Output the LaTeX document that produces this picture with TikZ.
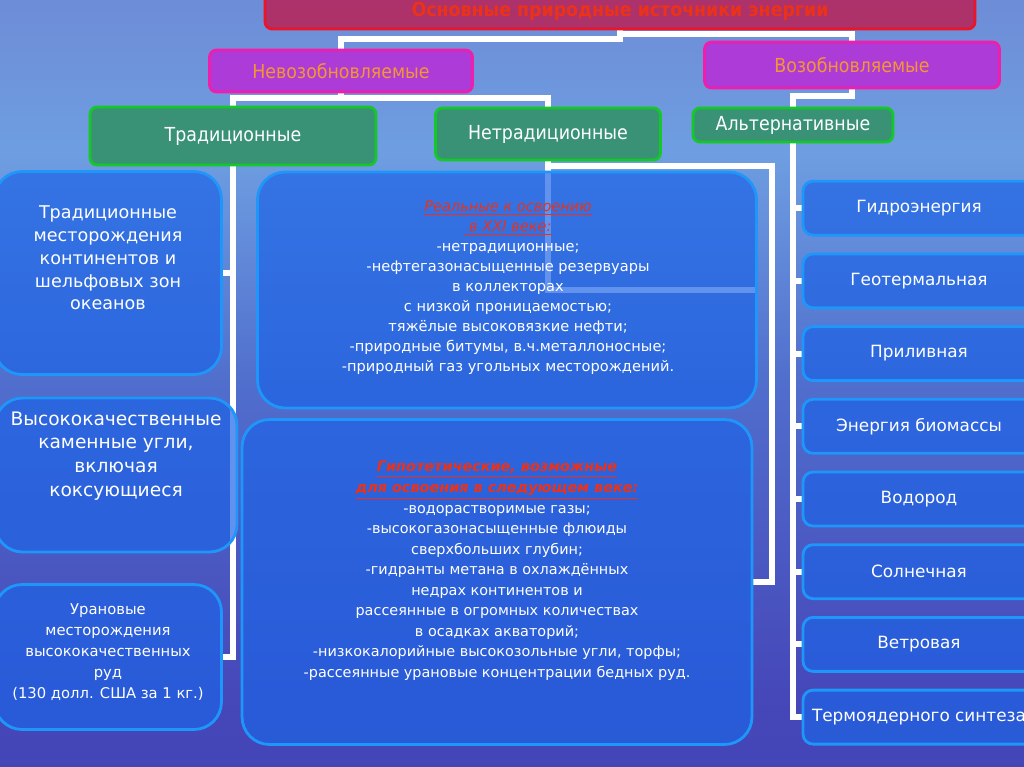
\documentclass[tikz,border=0pt]{standalone}
\usepackage{fontspec}
\setmainfont{DejaVu Sans}
\newfontfamily\condfont{DejaVu Sans Condensed}
\usetikzlibrary{positioning}

\definecolor{seatop}{RGB}{110,110,195}
\definecolor{boxblue}{RGB}{30,100,230}
\definecolor{boxedge}{RGB}{30,150,250}
\definecolor{headred}{RGB}{235,50,25}
\definecolor{titlefill}{RGB}{180,40,95}
\definecolor{titleedge}{RGB}{235,20,40}
\definecolor{pinkfill}{RGB}{180,50,215}
\definecolor{pinkedge}{RGB}{240,30,170}
\definecolor{orangetxt}{RGB}{245,150,50}
\definecolor{greenfill}{RGB}{50,145,100}
\definecolor{greenedge}{RGB}{20,200,40}

\pgfdeclareverticalshading{sea}{100bp}{
  color(0bp)=({rgb,255:red,55;green,50;blue,165});
  color(30bp)=({rgb,255:red,70;green,72;blue,185});
  color(50bp)=({rgb,255:red,80;green,110;blue,205});
  color(65bp)=({rgb,255:red,110;green,158;blue,225});
  color(78bp)=({rgb,255:red,110;green,135;blue,212});
  color(88bp)=({rgb,255:red,95;green,105;blue,195});
  color(100bp)=(seatop)}

\pgfdeclarelayer{bg}
\pgfdeclarelayer{links}
\pgfsetlayers{bg,links,main}

\tikzset{
  link/.style={draw=white, line width=3.4pt},
  titlebox/.style={draw=titleedge, line width=1.6pt, fill=titlefill, fill opacity=0.9, text opacity=1,
    rounded corners=4pt, text=headred, font=\condfont\bfseries\fontsize{11}{13}\selectfont},
  pinkbox/.style={draw=pinkedge, line width=1.6pt, fill=pinkfill, fill opacity=0.9, text opacity=1,
    rounded corners=4pt, text=orangetxt, font=\condfont\fontsize{11}{13}\selectfont},
  greenbox/.style={draw=greenedge, line width=1.6pt, fill=greenfill, fill opacity=0.85, text opacity=1,
    rounded corners=4pt, text=white, font=\condfont\fontsize{11}{13}\selectfont},
  bluebox/.style={draw=boxedge, line width=1.6pt, fill=boxblue, fill opacity=0.7,
    rounded corners=0.55cm},
  altbox/.style={draw=boxedge, line width=1.6pt, fill=boxblue, fill opacity=0.7, text opacity=1,
    rounded corners=0.2cm, minimum width=4.64cm, minimum height=1.08cm,
    text=white, font=\fontsize{9.6}{12}\selectfont},
  bodytext/.style={text=white, align=center},
  redhead/.style={text=headred}
}

\begin{document}
\begin{tikzpicture}[x=0.02cm, y=-0.02cm]
  \useasboundingbox (0,0) rectangle (1024,767);
  \begin{pgfonlayer}{bg}
    \shade[shading=sea] (0,0) rectangle (1024,767);
  \end{pgfonlayer}

  % headings
  \node[titlebox, minimum width=14.2cm, minimum height=0.72cm] (top) at (620,11)
    {Основные природные источники энергии};
  \node[pinkbox, minimum width=5.26cm, minimum height=0.84cm] (nonren) at (341,71) {Невозобновляемые};
  \node[pinkbox, minimum width=5.9cm, minimum height=0.92cm] (ren) at (852,65) {Возобновляемые};
  \node[greenbox, minimum width=5.72cm, minimum height=1.16cm] (trad) at (233,136) {Традиционные};
  \node[greenbox, minimum width=4.5cm, minimum height=1.04cm] (nontrad) at (548,134) {Нетрадиционные};
  \node[greenbox, minimum width=4.0cm, minimum height=0.68cm] (alt) at (793,125) {Альтернативные};

  % traditional deposits
  \begin{scope}[every node/.style={bluebox}]
    \node[minimum width=4.54cm, minimum height=4.06cm] (A) at (108,273) {};
    \node[minimum width=4.84cm, minimum height=3.08cm] (B) at (116,475) {};
    \node[minimum width=4.54cm, minimum height=2.9cm] (C) at (108,657) {};
    \node[minimum width=9.98cm, minimum height=4.72cm] (R) at (507,290) {};
    \node[minimum width=10.2cm, minimum height=6.5cm] (H) at (497,582) {};
  \end{scope}
  \coordinate (hbend) at (772,582);

  \begin{scope}[every node/.style={bodytext}]
    \node[font=\fontsize{10}{13}\selectfont] (Atxt) at (108,258)
      {Традиционные\\месторождения\\континентов и\\шельфовых зон\\океанов};
    \node[font=\fontsize{10.6}{13.6}\selectfont] (Btxt) at (116,456)
      {Высококачественные\\каменные угли,\\включая\\коксующиеся};
    \node[font=\fontsize{8.4}{11.9}\selectfont] (Ctxt) at (108,652)
      {Урановые\\месторождения\\высококачественных\\руд\\(130 долл. США за 1 кг.)};
    \node[font=\fontsize{8.3}{11.4}\selectfont] (Rtxt) at (508,288)
      {\textcolor{headred}{\underline{\textit{Реальные к освоению}}}\\
       \textcolor{headred}{\underline{\textit{ в XXI веке:}}}\\
       -нетрадиционные;\\-нефтегазонасыщенные резервуары\\в коллекторах\\
       с низкой проницаемостью;\\тяжёлые высоковязкие нефти;\\
       -природные битумы, в.ч.металлоносные;\\-природный газ угольных месторождений.};
    \node[font=\fontsize{8.2}{11.7}\selectfont] (Htxt) at (497,571)
      {\textcolor{headred}{\underline{\textbf{\textit{Гипотетические, возможные}}}}\\
       \textcolor{headred}{\underline{\textbf{\textit{для освоения в следующем веке:}}}}\\
       -водорастворимые газы;\\-высокогазонасыщенные флюиды\\сверхбольших глубин;\\
       -гидранты метана в охлаждённых\\недрах континентов и\\
       рассеянные в огромных количествах\\в осадках акваторий;\\
       -низкокалорийные высокозольные угли, торфы;\\
       -рассеянные урановые концентрации бедных руд.};
  \end{scope}

  % alternative sources
  \foreach \txt [count=\i] in {Гидроэнергия, Геотермальная, Приливная, Энергия биомассы,
      Водород, Солнечная, Ветровая, Термоядерного синтеза}
    \node[altbox] (r\i) at (919, 135.5+72.7*\i) {\txt};

  \begin{pgfonlayer}{links}
    \draw[link] (nonren.north) -- ++(0,-10) -| (top.south);
    \draw[link] (ren.north) -- ++(0,-7) -| (top.south);
    \draw[link] (nonren.south) -- ++(0,5) -| (trad.north);
    \draw[link] (nonren.south) -- ++(0,5) -| (nontrad.north);
    \draw[link] (ren.south) -- ++(0,7) -| (alt.north);
    \draw[link] (trad.south) |- (A.east);
    \draw[link] (trad.south) |- (B.east);
    \draw[link] (trad.south) |- (C.east);
    \draw[link] (nontrad.south) |- (R.east);
    \draw[link] (nontrad.south) -- ++(0,5) -| (hbend) -- (H.east);
    \foreach \i in {1,...,8}
      \draw[link] (alt.south) |- (r\i.west);
  \end{pgfonlayer}
\end{tikzpicture}
\end{document}
